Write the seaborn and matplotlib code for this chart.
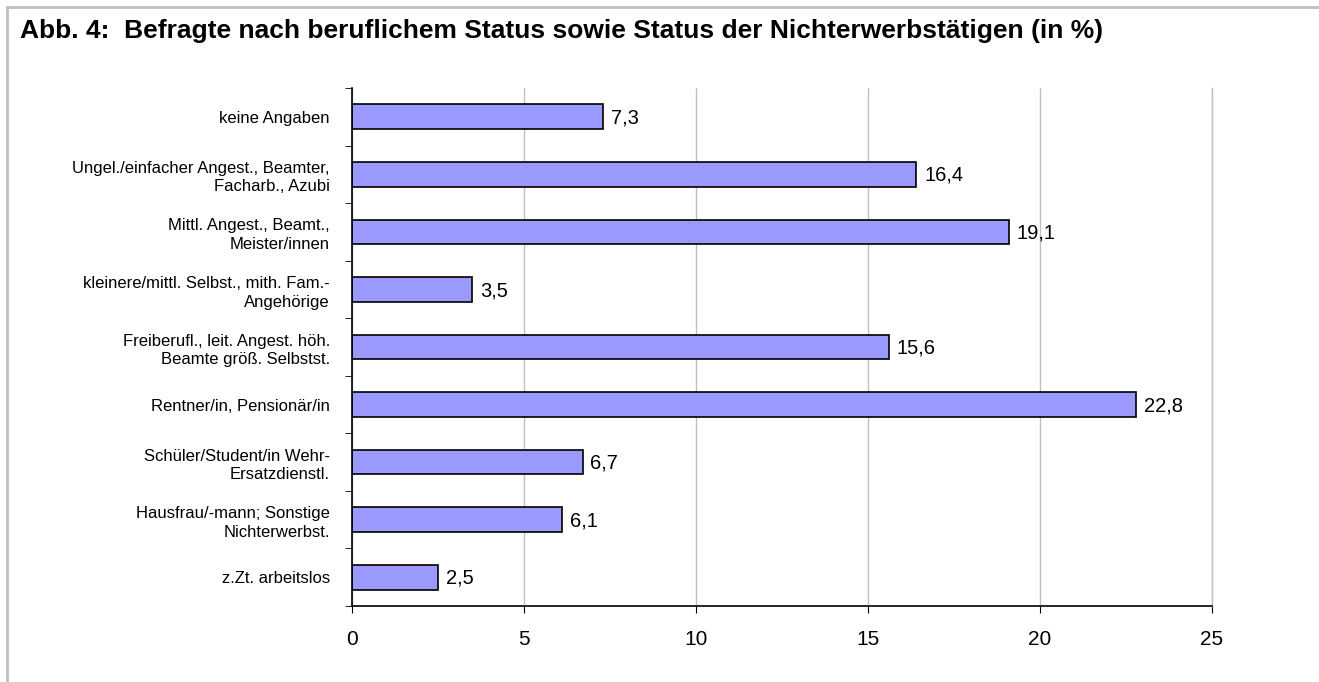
import matplotlib
matplotlib.use("Agg")
import matplotlib.pyplot as plt
import seaborn as sns
import pandas as pd
from matplotlib.lines import Line2D

kategorien = [
    "keine Angaben",
    "Ungel./einfacher Angest., Beamter,\nFacharb., Azubi",
    "Mittl. Angest., Beamt.,\nMeister/innen",
    "kleinere/mittl. Selbst., mith. Fam.-\nAngehörige",
    "Freiberufl., leit. Angest. höh.\nBeamte größ. Selbstst.",
    "Rentner/in, Pensionär/in",
    "Schüler/Student/in Wehr-\nErsatzdienstl.",
    "Hausfrau/-mann; Sonstige\nNichterwerbst.",
    "z.Zt. arbeitslos",
]
anteile = [7.3, 16.4, 19.1, 3.5, 15.6, 22.8, 6.7, 6.1, 2.5]
x_ticks = [0, 5, 10, 15, 20, 25]

df = pd.DataFrame({"kategorie": kategorien, "anteil": anteile})

sns.set_style("white")
plt.rcParams["font.family"] = ["Liberation Sans", "DejaVu Sans"]
plt.rcParams["text.color"] = "black"
plt.rcParams["xtick.color"] = "black"
plt.rcParams["ytick.color"] = "black"

fig = plt.figure(figsize=(13.19, 6.82), dpi=100)
ax = fig.add_axes([0.2669, 0.1114, 0.652, 0.7596])

sns.barplot(data=df, x="anteil", y="kategorie", color="#9999FF",
            edgecolor="black", linewidth=1.2, width=0.43, saturation=1, ax=ax)

ax.set_xlim(0, 25)
ax.set_xticks(x_ticks)
ax.set_xticklabels([str(t) for t in x_ticks], fontsize=15)
ax.xaxis.grid(True, color="#c0c0c0", linewidth=1)
ax.set_axisbelow(True)
ax.set_xlabel("")
ax.set_ylabel("")

# Beschriftung der Balken
for i, v in enumerate(anteile):
    ax.text(v + 0.23, i + 0.02, str(v).replace(".", ","), va="center", ha="left", fontsize=14.5)

ax.set_yticks(range(len(kategorien)))
ax.set_yticklabels(kategorien, fontsize=12, ha="right", multialignment="right", linespacing=1.3)
ax.tick_params(axis="y", length=0, pad=16)
ax.tick_params(axis="x", length=5, direction="out", pad=12, bottom=True)

# kleine Striche zwischen den Kategorien
ax.set_yticks([i + 0.5 for i in range(-1, len(kategorien))], minor=True)
ax.tick_params(axis="y", which="minor", length=5, direction="out", left=True)

ax.spines["top"].set_visible(False)
ax.spines["right"].set_color("#c0c0c0")
ax.spines["right"].set_linewidth(1)
for s in ["left", "bottom"]:
    ax.spines[s].set_color("black")
    ax.spines[s].set_linewidth(1.2)

# Rahmen
fig.add_artist(Line2D([7 / 1319, 7 / 1319], [0, 1 - 7 / 682], color="#bfbfbf", linewidth=2))
fig.add_artist(Line2D([7 / 1319, 1], [1 - 7 / 682, 1 - 7 / 682], color="#bfbfbf", linewidth=2))

fig.text(20 / 1319, 1 - 31 / 682, "Abb. 4:  Befragte nach beruflichem Status sowie Status der Nichterwerbstätigen (in %)",
         fontsize=19, fontweight="bold", va="center", ha="left", color="black")

fig.savefig("out.png", dpi=100)
